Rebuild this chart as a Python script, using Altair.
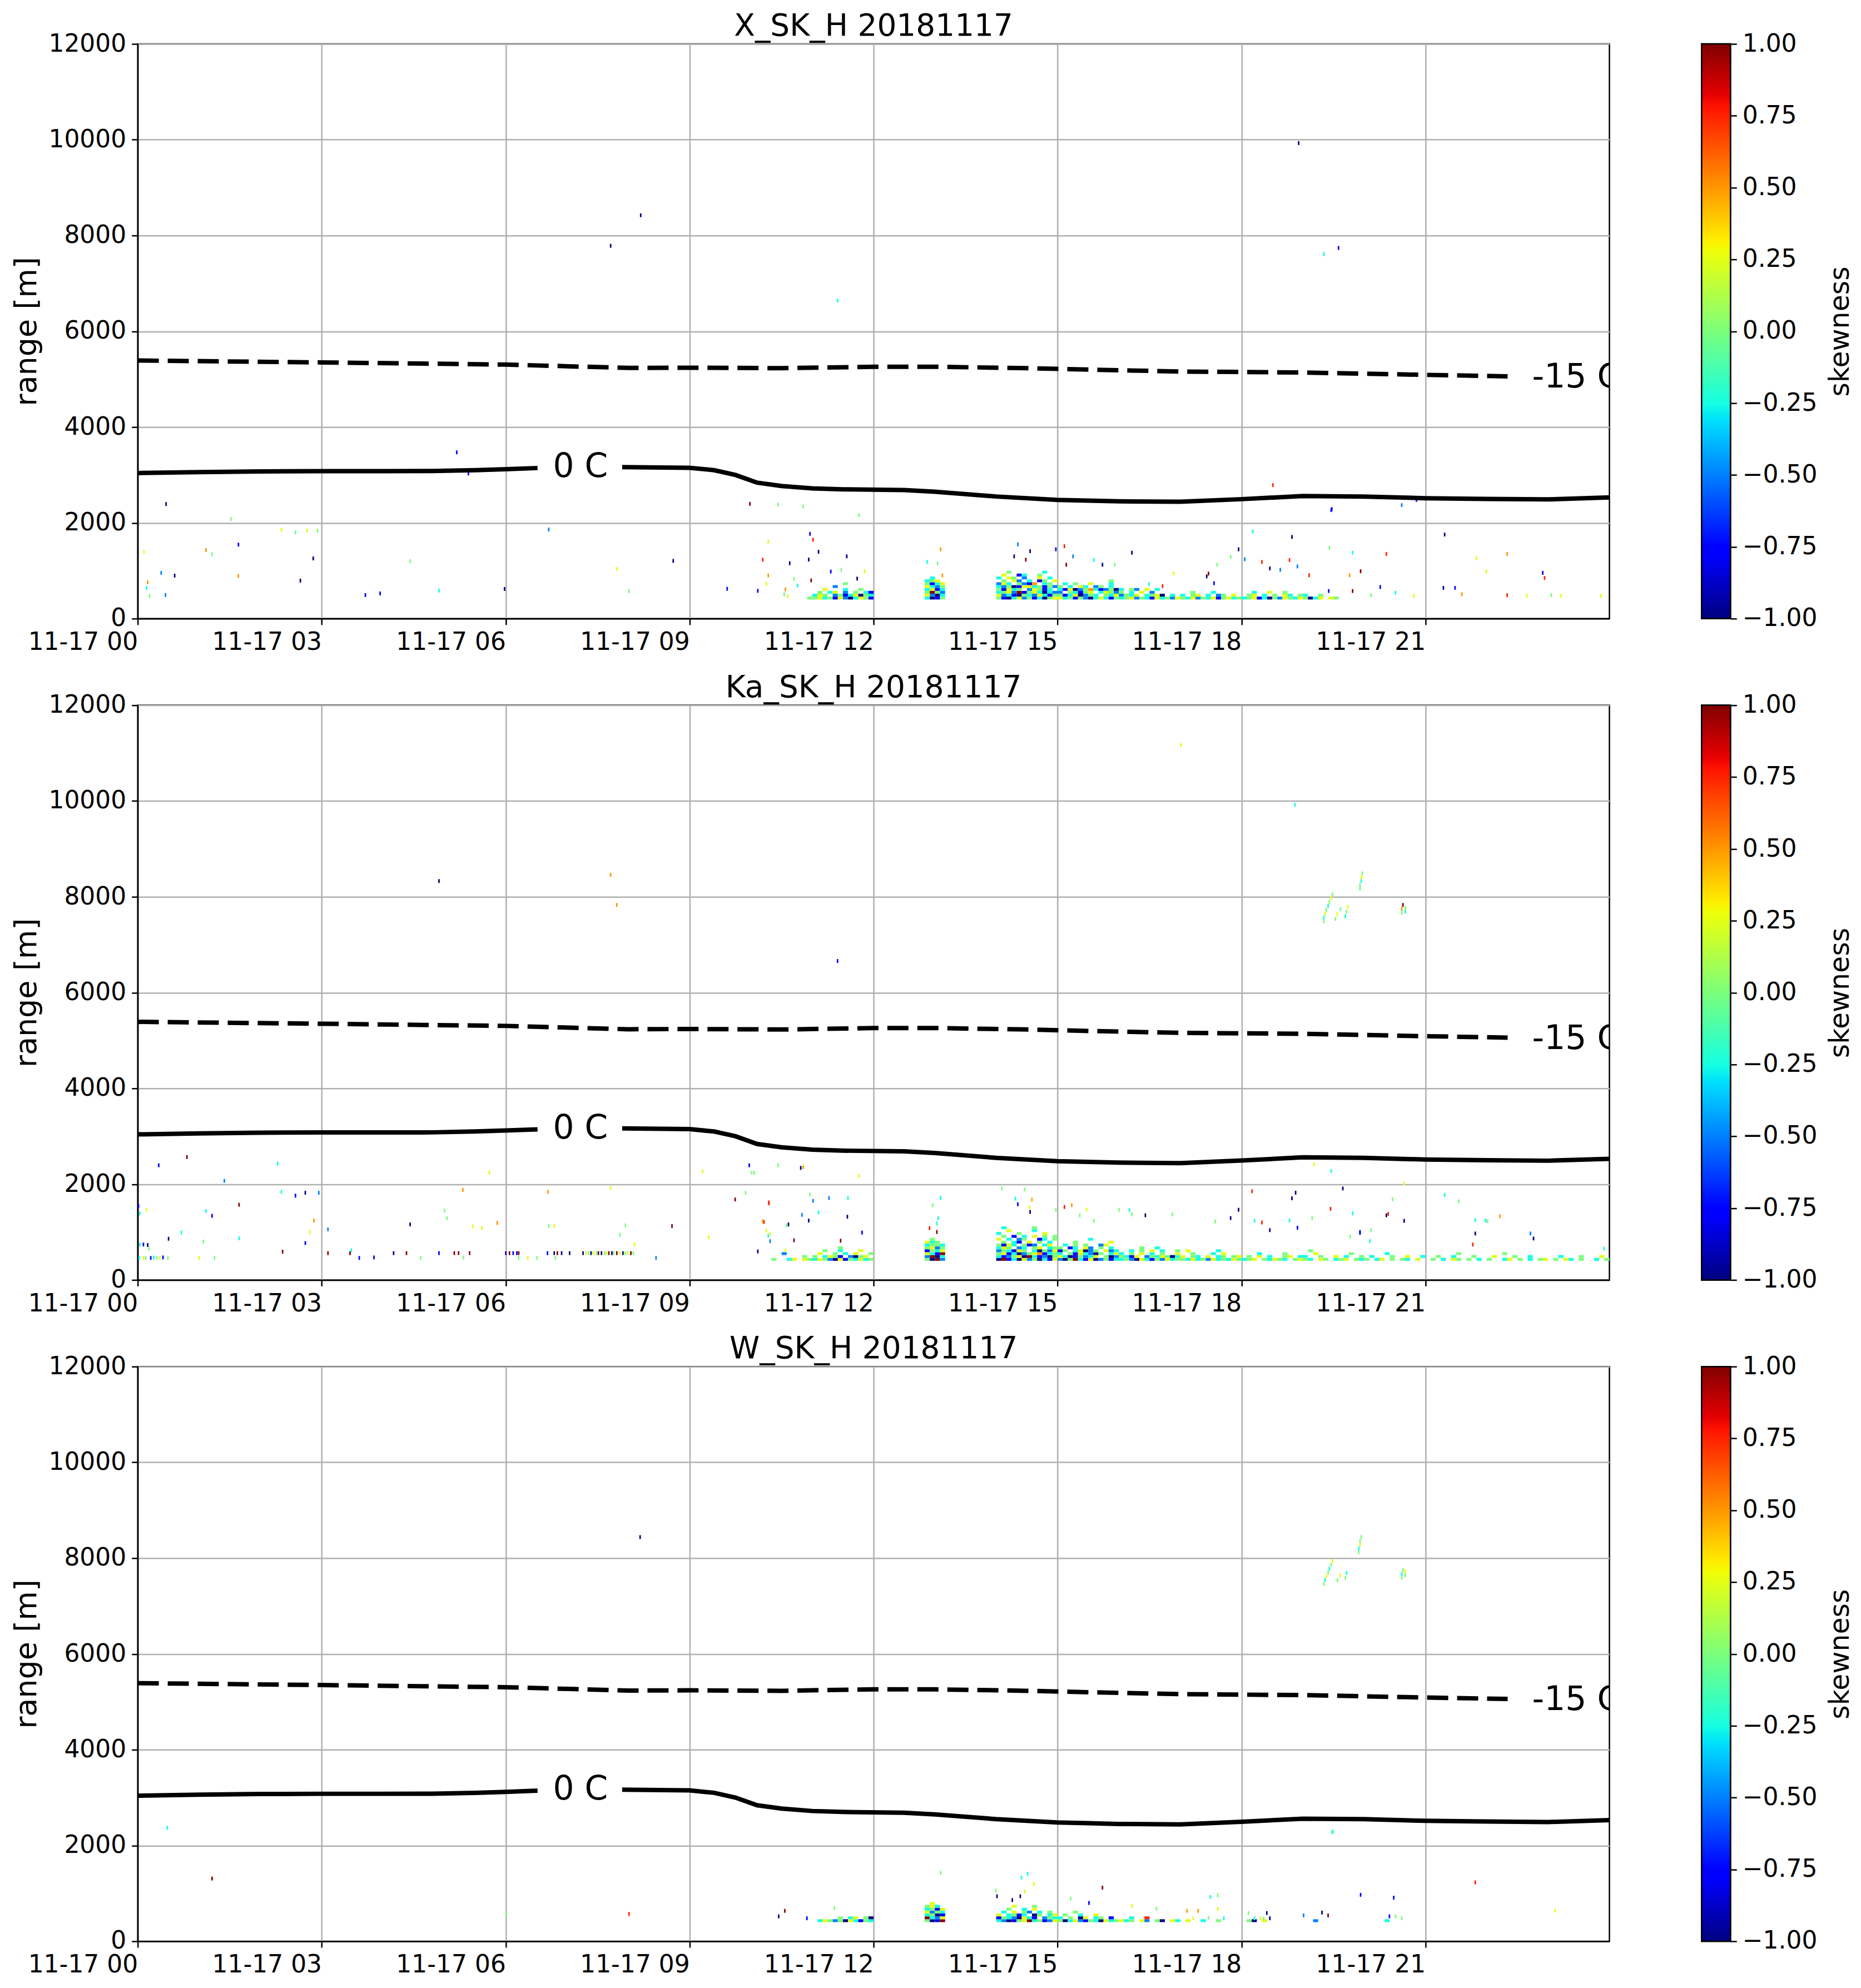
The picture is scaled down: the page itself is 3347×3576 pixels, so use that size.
import altair as alt
import pandas as pd
import numpy as np

TITLES = ["X_SK_H 20181117", "Ka_SK_H 20181117", "W_SK_H 20181117"]
LEVELS = [-1.0, -0.75, -0.5, -0.25, 0.0, 0.25, 0.5, 0.75, 1.0]
X_TICKS = [0, 3, 6, 9, 12, 15, 18, 21]
Y_TICKS = [0, 2000, 4000, 6000, 8000, 10000, 12000]

# isotherms (hours, metres)
ZERO_T1 = [0, 1, 2, 3, 4, 4.8, 5.5, 6.0, 6.52]
ZERO_R1 = [3040, 3060, 3075, 3080, 3080, 3082, 3100, 3120, 3145]
ZERO_T2 = [7.9, 9.0, 9.4, 9.75, 10.1, 10.5, 11, 11.5, 12.5, 13.0, 14.0, 15.0, 15.5,
           16.0, 17.0, 18.0, 19.0, 20.0, 21.0, 22.0, 23.0, 24.0]
ZERO_R2 = [3165, 3150, 3100, 3000, 2840, 2770, 2720, 2700, 2685, 2650, 2550, 2480, 2465,
           2450, 2440, 2495, 2560, 2550, 2515, 2500, 2490, 2530]
M15_T = [0, 3, 6, 8, 9, 10.5, 12, 13, 14.5, 15.5, 17, 19, 21, 22.34]
M15_R = [5390, 5350, 5305, 5235, 5240, 5230, 5260, 5260, 5230, 5200, 5160, 5140, 5090, 5060]
LABELS_TXT = ["0 C", "-15 C"]
LABELS_T = [7.22, 22.74]
LABELS_R = [2957, 4823]

# dense echo grids: rows of 60 m from 400 m, tokens "hour:12 cells of 5 min",
# cell digit k -> skewness LEVELS[k], '.' = no echo
P1_GRID = [
    "10:...........4 11:453415203541 12:..........30 13:14.......... 14:410352413045 15:534142035314 16:345243153425 17:435243514534 18:345130425435 19:4035.54.....",
    "11:354.24135043 12:..........52 13:03.......... 14:523104325314 15:41350243.435 16:2435.3450.3. 17:3.45.3.24.5. 18:.45.3.4.53.4 19:3..4........",
    "11:.4.35.2.4.31 12:..........48 13:42.......... 14:345281453032 15:2.43145.3542 16:4.3.5.2..... 17:..4...3..... 18:..3..5..4...",
    "11:..5...3..4.. 12:..........35 13:13.......... 14:41534.25413. 15:315024631240 16:3.42.5.3....",
    "11:....2....... 12:..........53 13:24.......... 14:324015534142 15:4.3.53.24.3.",
    "11:......4..... 12:..........41 13:35.......... 14:253.4216.34. 15:.3.4..5...3.",
    "12:..........34 13:5........... 14:.4.52.3.14.5 15:..........4.",
    "12:...........3 14:3.54.2..5.3.",
    "14:.5..13..4...",
    "14:..4......3..",
]
P2_GRID = [
    "10:....4..35.54 11:354205143534 12:..........40 13:82.......... 14:081305240315 15:204831502413 16:342053142534 17:435342534354 18:345.43543.45 19:43.54.345.43 20:4.35.4.43.5. 21:.4.3.54.4.3. 22:4..35.4.3.45 23:.4.53.4..3.4",
    "10:..........4. 11:4.3541.2045. 12:..........28 13:03.......... 14:312450831204 15:53014235.402 16:4315.2435403 17:5.43.5.34.45 18:.4.5.3..45.3 19:3..4..5.3..4 20:.3...4..5..3 21:..4..3...4.. 22:.5...4..3... 23:..3...4...5.",
    "10:......2..... 11:.5..4.3.5..4 12:..........53 13:18.......... 14:451302456134 15:3.4153204.35 16:3.4.5.3.4..5 17:..4...3.5... 18:...3....4... 19:..5......4.. 20:....3....... 21:......4..... 22:...4........",
    "11:..4..3...5.. 12:..........14 13:35.......... 14:243154.30425 15:14.35024.523 16:..3.4.5.3..4 17:.5.....3.... 19:.4..........",
    "11:.....4...... 12:..........45 13:24.......... 14:354.23.45.34 15:4.13.52.4.3. 16:....4..3....",
    "12:..........34 13:43.......... 14:4153.412.35. 15:.3.4.4..25..",
    "12:..........53 13:4........... 14:.4.31.5.4.3. 15:...4......5.",
    "12:...........4 14:5.3.24..13.4 15:......3.....",
    "14:.4.1.3.5.4.4",
    "14:3...4....5..",
    "14:..5....3....",
    "14:.3.....4....",
]
P3_GRID = [
    "11:.35424053143 12:..........40 13:18.......... 14:320145834125 15:403521430534 16:534.52.40.53 17:.5..3..4.... 18:.40.5....... 19:..2......... 20:....3.......",
    "11:.....4.35.40 12:..........83 13:25.......... 14:14320531.243 15:3.4.05.34.1. 16:..3..7......",
    "12:..........34 13:01.......... 14:5.3413.04.35 15:.4..3..5....",
    "12:..........52 13:43.......... 14:.3.5.42.3.4. 15:...4........",
    "12:..........34 13:15.......... 14:..4..3.5....",
    "12:..........45 13:3........... 14:...5...4....",
    "12:...........5",
]

# isolated echoes: (hour, range m, level index)
P1_SCAT = [
    (0.09, 1357, 5), (0.13, 603, 3), (0.15, 719, 6), (0.18, 429, 4), (0.37, 916, 2), (0.45, 2353, 0),
    (0.44, 452, 2), (0.59, 858, 0), (1.10, 1391, 6), (1.20, 1300, 4), (1.51, 2040, 4), (1.63, 1507, 1),
    (1.63, 853, 6), (2.33, 1820, 5), (2.56, 1762, 4), (2.75, 1800, 5), (2.92, 1797, 4), (2.85, 1217, 0),
    (2.64, 754, 0), (3.70, 452, 1), (3.94, 487, 1), (4.43, 1159, 4), (4.90, 545, 3), (5.19, 3432, 1),
    (5.38, 2991, 1), (5.97, 580, 0), (6.69, 1820, 2), (7.70, 7745, 0), (8.19, 8383, 0), (8.00, 533, 4),
    (7.80, 1000, 5), (8.72, 1166, 0), (9.60, 583, 1), (9.97, 2357, 8), (11.40, 6600, 3),
    (10.43, 2342, 4), (10.84, 2303, 4), (11.75, 2122, 4), (10.95, 1731, 1), (11.00, 1608, 7),
    (10.27, 1569, 5), (10.18, 1191, 7), (10.62, 1117, 0), (11.09, 1356, 0), (10.93, 1194, 0),
    (11.29, 943, 1), (11.55, 1260, 0), (11.46, 978, 4), (11.84, 950, 5), (11.72, 796, 0), (10.27, 862, 6),
    (10.69, 789, 4), (10.97, 758, 8), (10.24, 688, 5), (10.75, 650, 3), (10.10, 541, 1), (10.55, 572, 6),
    (10.59, 428, 5), (10.53, 467, 4), (13.08, 1407, 6), (12.86, 1144, 3), (13.03, 1117, 4), (13.11, 862, 6),
    (14.34, 1511, 2), (14.54, 1368, 0), (14.47, 1191, 8), (14.28, 1260, 0), (14.96, 1407, 1), (15.10, 1472, 7),
    (15.24, 1260, 2), (15.13, 1086, 8), (15.58, 1183, 3), (16.20, 1337, 0), (15.72, 1086, 0), (15.92, 1086, 4),
    (17.94, 1407, 0), (17.81, 1252, 4), (17.59, 1086, 4), (18.17, 1782, 3), (18.81, 1666, 0), (19.42, 1442, 4),
    (19.45, 2226, 1), (19.80, 1337, 3), (18.77, 1183, 7), (18.32, 1144, 7), (18.04, 1200, 2), (18.45, 1009, 0),
    (18.62, 980, 2), (18.90, 1050, 2), (19.09, 866, 7), (19.75, 866, 6), (19.41, 537, 1), (19.80, 537, 8),
    (19.93, 950, 8), (17.42, 842, 0), (17.54, 700, 1), (17.45, 900, 8), (16.88, 904, 5), (16.48, 680, 3),
    (16.70, 640, 7), (18.92, 9890, 0), (19.33, 7570, 3), (19.57, 7700, 1), (18.50, 2748, 7), (19.46, 2249, 1),
    (20.60, 2330, 2), (20.84, 2440, 1), (21.30, 1716, 0), (20.35, 1311, 7), (21.82, 1217, 5), (22.32, 1311, 6),
    (21.98, 946, 5), (21.28, 603, 0), (21.47, 603, 1), (21.58, 470, 6), (22.32, 450, 7), (22.64, 440, 5),
    (22.90, 916, 1), (22.93, 810, 7), (23.04, 450, 4), (23.20, 440, 5), (23.85, 440, 5), (20.10, 450, 4),
    (20.50, 500, 3), (20.80, 440, 5), (20.25, 620, 1),
]
P2_SCAT = [
    (3.09, 520, 8), (3.45, 520, 8), (3.47, 580, 3), (4.16, 520, 0), (4.37, 520, 8), (4.90, 520, 1),
    (5.15, 520, 8), (5.22, 520, 8), (5.40, 520, 8), (5.99, 520, 1), (6.05, 520, 8), (6.11, 520, 1),
    (6.17, 520, 1), (6.20, 520, 8), (6.67, 520, 1), (6.78, 520, 0), (6.83, 520, 8), (6.90, 520, 0),
    (7.03, 520, 0), (7.25, 520, 0), (7.30, 520, 5), (7.34, 520, 4), (7.38, 520, 0), (7.42, 520, 5),
    (7.47, 520, 4), (7.50, 520, 8), (7.55, 520, 0), (7.60, 520, 4), (7.63, 520, 5), (7.67, 520, 8),
    (7.72, 520, 0), (7.75, 520, 4), (7.80, 520, 8), (7.85, 520, 5), (7.90, 520, 0), (7.94, 520, 4),
    (7.98, 520, 5), (8.03, 520, 8), (8.07, 520, 4),
    (0.01, 420, 3), (0.08, 420, 5), (0.12, 420, 4), (0.20, 420, 1), (0.25, 430, 3), (0.30, 420, 4),
    (0.35, 420, 5), (0.40, 430, 1), (0.48, 420, 4), (0.99, 420, 5), (1.24, 420, 4), (3.60, 420, 1),
    (3.84, 430, 1), (4.60, 420, 4), (5.30, 430, 4), (6.20, 420, 4), (6.35, 420, 5), (6.50, 420, 4),
    (6.80, 420, 4), (8.44, 420, 2),
    (0.00, 1507, 1), (0.13, 1430, 5), (0.02, 1350, 3), (1.10, 1400, 3), (1.20, 1300, 1), (1.64, 1530, 8),
    (2.33, 1800, 3), (2.56, 1720, 1), (2.72, 1780, 0), (2.94, 1780, 2), (2.86, 1200, 6), (2.80, 960, 5),
    (0.70, 950, 3), (0.49, 820, 0), (1.64, 830, 3), (1.06, 760, 4), (2.72, 730, 1), (0.02, 700, 3),
    (0.08, 700, 1), (0.15, 690, 0), (0.17, 615, 4), (2.35, 550, 8), (0.33, 2354, 1), (0.79, 2527, 8),
    (1.40, 2029, 2), (2.27, 2390, 3), (5.72, 2200, 5), (3.09, 1016, 2), (4.43, 1120, 0), (4.99, 1410, 4),
    (5.03, 1250, 4), (5.29, 1840, 6), (6.68, 1800, 6), (5.45, 1080, 5), (5.60, 1040, 5), (5.85, 1150, 6),
    (6.69, 1085, 4), (6.78, 1085, 5), (7.94, 1100, 4), (7.85, 905, 4), (8.70, 1085, 8), (7.70, 1880, 5),
    (8.09, 700, 5), (9.20, 2230, 5), (9.96, 2354, 1), (10.00, 2200, 4), (10.80, 2300, 0), (9.90, 1780, 4),
    (9.73, 1640, 8), (10.28, 1560, 7), (10.82, 1320, 2), (10.20, 1170, 7), (10.60, 1120, 0), (9.30, 850, 5),
    (10.30, 920, 5),
    (4.90, 8290, 0), (7.70, 8420, 6), (7.80, 7790, 6), (11.40, 6620, 1), (18.86, 9880, 3), (17.00, 11130, 5),
    (19.33, 7450, 4), (19.33, 7530, 3), (19.35, 7610, 5), (19.37, 7690, 4), (19.40, 7770, 3), (19.42, 7850, 4),
    (19.45, 7930, 5), (19.47, 8010, 4), (19.52, 7500, 4), (19.55, 7600, 5), (19.60, 7700, 4), (19.68, 7550, 3),
    (19.70, 7650, 4), (19.72, 7750, 5), (19.92, 8130, 4), (19.92, 8210, 4), (19.94, 8290, 3), (19.94, 8370, 5),
    (19.96, 8450, 4), (20.60, 7630, 4), (20.60, 7710, 6), (20.62, 7790, 8), (20.66, 7650, 3), (20.66, 7730, 4),
    (10.43, 2353, 4), (10.84, 2315, 6), (11.75, 2133, 5), (10.04, 2199, 4), (10.28, 1580, 7), (11.00, 1611, 2),
    (11.26, 1670, 2), (11.57, 1670, 3), (10.95, 1743, 4), (10.18, 1186, 6), (11.09, 1368, 3), (10.93, 1200, 0),
    (10.57, 1097, 4), (11.56, 1280, 0), (10.24, 989, 5), (10.27, 885, 3), (10.69, 788, 8), (10.30, 770, 2),
    (10.10, 556, 0), (10.55, 580, 5), (11.45, 780, 8), (11.80, 950, 1),
    (12.95, 1522, 4), (13.08, 1677, 3), (13.02, 1140, 3), (13.04, 1250, 3), (13.02, 962, 8), (12.90, 1040, 7),
    (14.08, 1870, 4), (14.45, 1850, 4), (14.30, 1657, 3), (14.57, 1638, 6), (14.34, 1540, 1), (14.53, 1480, 5),
    (14.96, 1418, 4), (14.54, 1380, 0), (15.10, 1484, 7), (15.22, 1522, 6), (15.46, 1430, 5), (15.35, 1309, 4),
    (15.58, 1194, 4), (15.99, 1426, 4), (16.16, 1420, 3), (16.20, 1330, 4), (16.86, 1329, 4), (16.42, 1310, 0),
    (17.81, 1252, 0), (17.56, 1180, 4), (17.94, 1426, 0), (18.20, 1194, 3), (18.16, 1812, 7), (18.87, 1782, 0),
    (18.81, 1666, 0), (19.17, 2373, 5), (19.45, 2237, 3), (19.64, 1870, 0), (19.44, 1445, 7), (19.14, 1250, 4),
    (18.77, 1200, 3), (18.32, 1160, 7), (18.45, 1000, 0), (18.90, 1050, 1), (19.92, 962, 1),
    (20.64, 1970, 5), (20.45, 1645, 4), (19.80, 1350, 3), (20.35, 1310, 0), (20.38, 1340, 7), (20.64, 1195, 0),
    (19.92, 943, 1), (20.10, 1000, 4), (19.76, 865, 4), (20.08, 770, 3), (21.30, 1735, 3), (21.53, 1600, 4),
    (21.80, 1210, 3), (21.97, 1200, 3), (22.00, 1190, 4), (22.20, 1290, 6), (21.80, 930, 0), (22.70, 930, 2),
    (22.75, 826, 0), (21.76, 700, 7), (23.90, 614, 3),
]
P3_SCAT = [
    (10.54, 595, 8), (10.44, 480, 0), (11.35, 650, 4), (13.08, 1390, 4), (14.40, 1290, 3), (14.50, 1370, 3),
    (13.98, 1020, 4), (14.00, 900, 0), (14.45, 1000, 5), (14.38, 900, 0), (14.60, 1160, 5), (14.25, 820, 0),
    (15.72, 1080, 8), (17.60, 920, 4), (17.48, 885, 3), (19.93, 930, 1), (19.46, 2237, 4), (17.60, 634, 5),
    (17.10, 595, 6), (17.28, 595, 6), (17.70, 440, 3), (17.45, 450, 4), (17.20, 440, 5), (18.10, 550, 4),
    (18.20, 440, 3), (18.30, 440, 5), (18.40, 550, 0), (18.45, 440, 0), (18.35, 440, 4), (19.00, 500, 2),
    (19.30, 560, 0), (20.40, 480, 1), (20.60, 440, 4), (0.47, 2330, 3), (1.20, 1270, 8), (6.00, 540, 4),
    (8.00, 530, 7), (8.18, 8400, 0), (21.80, 1190, 7), (19.40, 500, 8), (19.48, 2250, 3), (20.50, 480, 4),
    (23.10, 600, 5), (20.47, 870, 1), (10.90, 440, 1), (15.20, 850, 4), (15.50, 760, 1), (16.20, 700, 5),
    (16.60, 640, 4),
    (19.33, 7420, 4), (19.35, 7500, 3), (19.37, 7580, 5), (19.40, 7660, 4), (19.42, 7740, 3), (19.45, 7820, 4),
    (19.47, 7900, 5), (19.55, 7500, 4), (19.60, 7600, 5), (19.68, 7550, 4), (19.70, 7650, 3), (19.90, 8080, 4),
    (19.90, 8160, 3), (19.92, 8240, 5), (19.92, 8320, 4), (19.94, 8400, 4), (20.60, 7550, 4), (20.60, 7630, 3),
    (20.62, 7710, 4), (20.66, 7600, 4), (20.66, 7680, 5),
]

# ---------------- styling constants ----------------
FONT = "DejaVu Sans"
PLOT_W, PLOT_H = 2650, 1035
CB_W = 52
GRID_R0, GRID_DR, GRID_DT = 400, 60, 5 / 60
SCAT_DT, SCAT_DR = 0.025, 80


def jet_rgb(x):
    r = np.interp(x, [0, 0.35, 0.66, 0.89, 1], [0, 0, 1, 1, 0.5])
    g = np.interp(x, [0, 0.125, 0.375, 0.64, 0.91, 1], [0, 0, 1, 1, 0, 0])
    b = np.interp(x, [0, 0.11, 0.34, 0.65, 1], [0.5, 1, 1, 0, 0])
    return "#%02x%02x%02x" % (int(round(r * 255)), int(round(g * 255)), int(round(b * 255)))


JET_RANGE = [jet_rgb((v + 1) / 2) for v in LEVELS]
STOP_POS = [0, 0.11, 0.125, 0.34, 0.35, 0.375, 0.5, 0.64, 0.65, 0.66, 0.89, 0.91, 1]
GRAD = alt.Gradient(
    gradient="linear",
    stops=[alt.GradientStop(offset=p, color=jet_rgb(p)) for p in STOP_POS],
    x1=0, x2=0, y1=1, y2=0,
)


def cells(grid, scat):
    recs = []
    for i, row in enumerate(grid):
        for tok in row.split():
            h, chunk = tok.split(":")
            for j, ch in enumerate(chunk):
                if ch == ".":
                    continue
                t = int(h) + j * GRID_DT
                recs.append(dict(t=t, t2=t + GRID_DT, r=GRID_R0 + GRID_DR * i,
                                 r2=GRID_R0 + GRID_DR * (i + 1), v=LEVELS[int(ch)]))
    for t, r, k in scat:
        recs.append(dict(t=t, t2=t + SCAT_DT, r=r, r2=r + SCAT_DR, v=LEVELS[k]))
    return pd.DataFrame(recs)


iso = pd.DataFrame(
    [dict(t=t, r=r, seg="a") for t, r in zip(ZERO_T1, ZERO_R1)]
    + [dict(t=t, r=r, seg="b") for t, r in zip(ZERO_T2, ZERO_R2)]
)
m15 = pd.DataFrame(dict(t=M15_T, r=M15_R))
lab = pd.DataFrame(dict(txt=LABELS_TXT, t=LABELS_T, r=LABELS_R))

xscale = alt.Scale(domain=[0, 24], nice=False, zero=False)
yscale = alt.Scale(domain=[0, 12000], nice=False, zero=False)
x_axis = alt.Axis(values=X_TICKS, title=None, labelAlign="right", labelBaseline="top",
                  labelFlush=False, labelOverlap=False, labelLimit=600,
                  labelExpr="'11-17 ' + (datum.value < 10 ? '0' : '') + datum.value")
y_axis = alt.Axis(values=Y_TICKS, title="range [m]", format="d", labelFlush=False,
                  labelOverlap=False, titlePadding=11, labelLimit=600)


def panel(title, grid, scat):
    df = cells(grid, scat)
    base_x = alt.X("t:Q", scale=xscale, axis=x_axis)
    base_y = alt.Y("r:Q", scale=yscale, axis=y_axis)
    rects = alt.Chart(df).mark_rect(strokeWidth=0).encode(
        x=base_x, x2="t2:Q", y=base_y, y2="r2:Q",
        color=alt.Color("v:Q", scale=alt.Scale(domain=LEVELS, range=JET_RANGE), legend=None),
    )
    zero = alt.Chart(iso).mark_line(color="black", strokeWidth=8, strokeCap="butt").encode(
        x=alt.X("t:Q", scale=xscale), y=alt.Y("r:Q", scale=yscale),
        detail="seg:N", order="t:Q")
    dash = alt.Chart(m15).mark_line(color="black", strokeWidth=8, strokeDash=[38, 16],
                                    strokeCap="butt").encode(
        x=alt.X("t:Q", scale=xscale), y=alt.Y("r:Q", scale=yscale), order="t:Q")
    t0 = alt.Chart(lab.iloc[[0]]).mark_text(font=FONT, fontSize=60, color="black",
                                            align="center", baseline="alphabetic").encode(
        x=alt.X("t:Q", scale=xscale), y=alt.Y("r:Q", scale=yscale), text="txt:N")
    t15 = alt.Chart(lab.iloc[[1]]).mark_text(font=FONT, fontSize=60, color="black",
                                             align="left", baseline="alphabetic", clip=True).encode(
        x=alt.X("t:Q", scale=xscale), y=alt.Y("r:Q", scale=yscale), text="txt:N")
    ttl = alt.Chart(alt.Data(values=[{"txt": title}])).mark_text(
        font=FONT, fontSize=55, color="black", align="center", baseline="alphabetic"
    ).encode(x=alt.value(PLOT_W / 2), y=alt.value(-15), text="txt:N")
    return alt.layer(rects, zero, dash, t0, t15, ttl).properties(width=PLOT_W, height=PLOT_H)


def colorbar():
    return alt.Chart(alt.Data(values=[{"lo": -1, "hi": 1}])).mark_rect(
        fill=GRAD, stroke="black", strokeWidth=2.5
    ).encode(
        y=alt.Y("lo:Q", scale=alt.Scale(domain=[-1, 1], nice=False, zero=False),
                axis=alt.Axis(orient="right", values=LEVELS, format=".2f", title="skewness",
                              titleFontSize=49, titleAngle=270, titleBaseline="top",
                              grid=False, domain=False,
                              labelPadding=10, titlePadding=18, labelFlush=False,
                              labelOverlap=False)),
        y2="hi:Q",
        x=alt.value(0), x2=alt.value(CB_W),
    ).properties(width=CB_W, height=PLOT_H)


rows = []
for title, grid, scat in zip(TITLES, [P1_GRID, P2_GRID, P3_GRID], [P1_SCAT, P2_SCAT, P3_SCAT]):
    rows.append(alt.hconcat(panel(title, grid, scat), colorbar(), spacing=145)
                .resolve_scale(y="independent", x="independent"))

chart = alt.vconcat(*rows, spacing=28).resolve_scale(y="independent", x="independent").properties(
    padding={"left": 12, "top": 8, "right": 2, "bottom": 5}
).configure(font=FONT, background="white").configure_axis(
    labelFont=FONT, labelFontSize=44, labelColor="black",
    titleFont=FONT, titleFontSize=54, titleFontWeight="normal", titleColor="black",
    tickColor="black", tickSize=11, tickWidth=2.5,
    domainColor="black", domainWidth=2.5,
    gridColor="#b0b0b0", gridWidth=2.5, gridOpacity=1, labelPadding=10,
).configure_view(stroke="black", strokeWidth=2.5)

chart.save("out.html", embed_options={"renderer": "svg", "actions": False})
